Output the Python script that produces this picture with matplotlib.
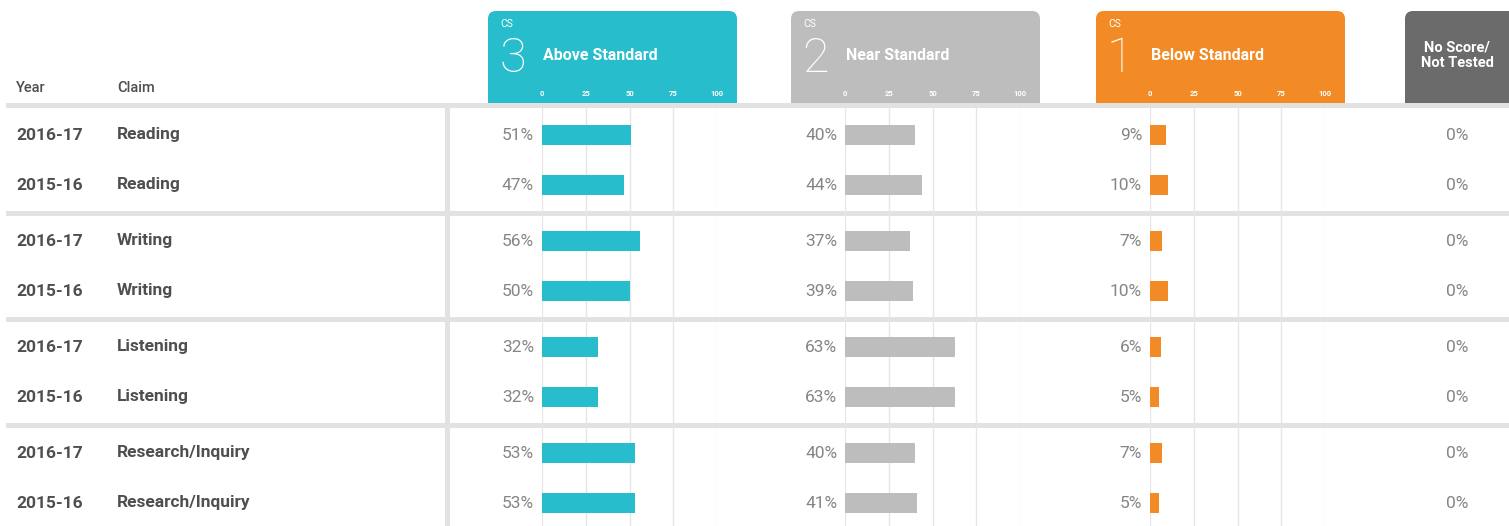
import matplotlib
matplotlib.use("Agg")
import matplotlib.pyplot as plt
from matplotlib.patches import FancyBboxPatch, Rectangle

# --- data ---
years = ["2016-17", "2015-16", "2016-17", "2015-16",
         "2016-17", "2015-16", "2016-17", "2015-16"]
claims = ["Reading", "Reading", "Writing", "Writing",
          "Listening", "Listening", "Research/Inquiry", "Research/Inquiry"]
above = [51, 47, 56, 50, 32, 32, 53, 53]
near = [40, 44, 37, 39, 63, 63, 40, 41]
below = [9, 10, 7, 10, 6, 5, 7, 5]
no_score = [0, 0, 0, 0, 0, 0, 0, 0]
scale_ticks = [0, 25, 50, 75, 100]

levels = ["3", "2", "1"]
level_names = ["Above Standard", "Near Standard", "Below Standard"]
series = [above, near, below]
colors = ["#27BDCC", "#BDBDBD", "#F28B26"]
dark = "#6B6B6B"
sep_col = "#E2E2E2"
grid_col = "#E6E6E6"
label_col = "#4F4F4F"
pct_col = "#858585"

W, H = 1509, 526
fig = plt.figure(figsize=(W / 100, H / 100), dpi=100)

# background axes in pixel units for the layout
bg = fig.add_axes([0, 0, 1, 1])
bg.set_xlim(0, W)
bg.set_ylim(H, 0)
bg.axis("off")

# row positions (pixels from top)
row_y = []
for g in range(4):
    row_y += [135 + g * 106, 185 + g * 106]
sep_y = [105, 213, 319, 425]

# zero position of each panel, 100 units = 175 px
panel_x0 = [542, 845, 1150]
panel_w = 175

# --- bar panels ---
for i in range(3):
    ax = fig.add_axes([panel_x0[i] / W, 0, panel_w / W, 1])
    ax.set_xlim(0, 100)
    ax.set_ylim(H, 0)
    ax.axis("off")
    ax.patch.set_alpha(0)
    ax.vlines(scale_ticks, 107, H, color=grid_col, lw=1, zorder=1)
    ax.barh(row_y, series[i], height=20, left=0, color=colors[i], zorder=3)
    for y, v in zip(row_y, series[i]):
        ax.text(-4.5, y, f"{v}%", ha="right", va="center", fontsize=12.5,
                color=pct_col, family="Roboto", clip_on=False)

    # header box
    bx = panel_x0[i] - 54
    box = FancyBboxPatch((bx, 11), 249, 60, boxstyle="round,pad=0,rounding_size=8",
                         fc=colors[i], ec="none", transform=bg.transData, zorder=0)
    bg.add_patch(box)
    bg.add_patch(Rectangle((bx, 40), 249, 64, fc=colors[i], ec="none", zorder=0))
    bg.text(bx + 12, 24, "CS", color="white", fontsize=7.5, family="Roboto",
            va="center", ha="left")
    bg.text(bx + 11, 59, levels[i], color="white", fontsize=35, family="Roboto",
            fontweight="light", va="center", ha="left")
    bg.text(bx + 55, 55, level_names[i], color="white", fontsize=11.5, family="Roboto",
            fontweight="bold", va="center", ha="left")
    for t in scale_ticks:
        ax.text(t, 94, str(t), color="white", fontsize=5.5, family="Roboto",
                fontweight="bold", ha="center", va="center", clip_on=False)

# no score / not tested column
bg.add_patch(FancyBboxPatch((1405, 11), 120, 60, boxstyle="round,pad=0,rounding_size=8",
                            fc=dark, ec="none", zorder=0))
bg.add_patch(Rectangle((1405, 40), 120, 64, fc=dark, ec="none", zorder=0))
bg.text(1457, 55, "No Score/\nNot Tested", color="white", fontsize=10.5, family="Roboto",
        fontweight="bold", ha="center", va="center", linespacing=1.15)
for y, v in zip(row_y, no_score):
    bg.text(1457, y, f"{v}%", ha="center", va="center", fontsize=12.5,
            color=pct_col, family="Roboto")

# column headers
bg.text(16, 88, "Year", ha="left", va="center", fontsize=10.5, color=label_col,
        family="Roboto", fontweight="medium")
bg.text(117, 88, "Claim", ha="left", va="center", fontsize=10.5, color=label_col,
        family="Roboto", fontweight="medium")

for y, yr, cl in zip(row_y, years, claims):
    bg.text(16, y, yr, ha="left", va="center", fontsize=12.5, color=label_col,
            family="Roboto", fontweight="bold")
    bg.text(117, y, cl, ha="left", va="center", fontsize=12.5, color=label_col,
            family="Roboto", fontweight="bold")

# separators and vertical divider
for s in sep_y:
    bg.add_patch(Rectangle((6, s - 2.5), W, 5, fc=sep_col, ec="none", zorder=5))
bg.add_patch(Rectangle((445, 108), 4.5, H, fc=sep_col, ec="none", zorder=0))

fig.savefig("out.png", dpi=100)
